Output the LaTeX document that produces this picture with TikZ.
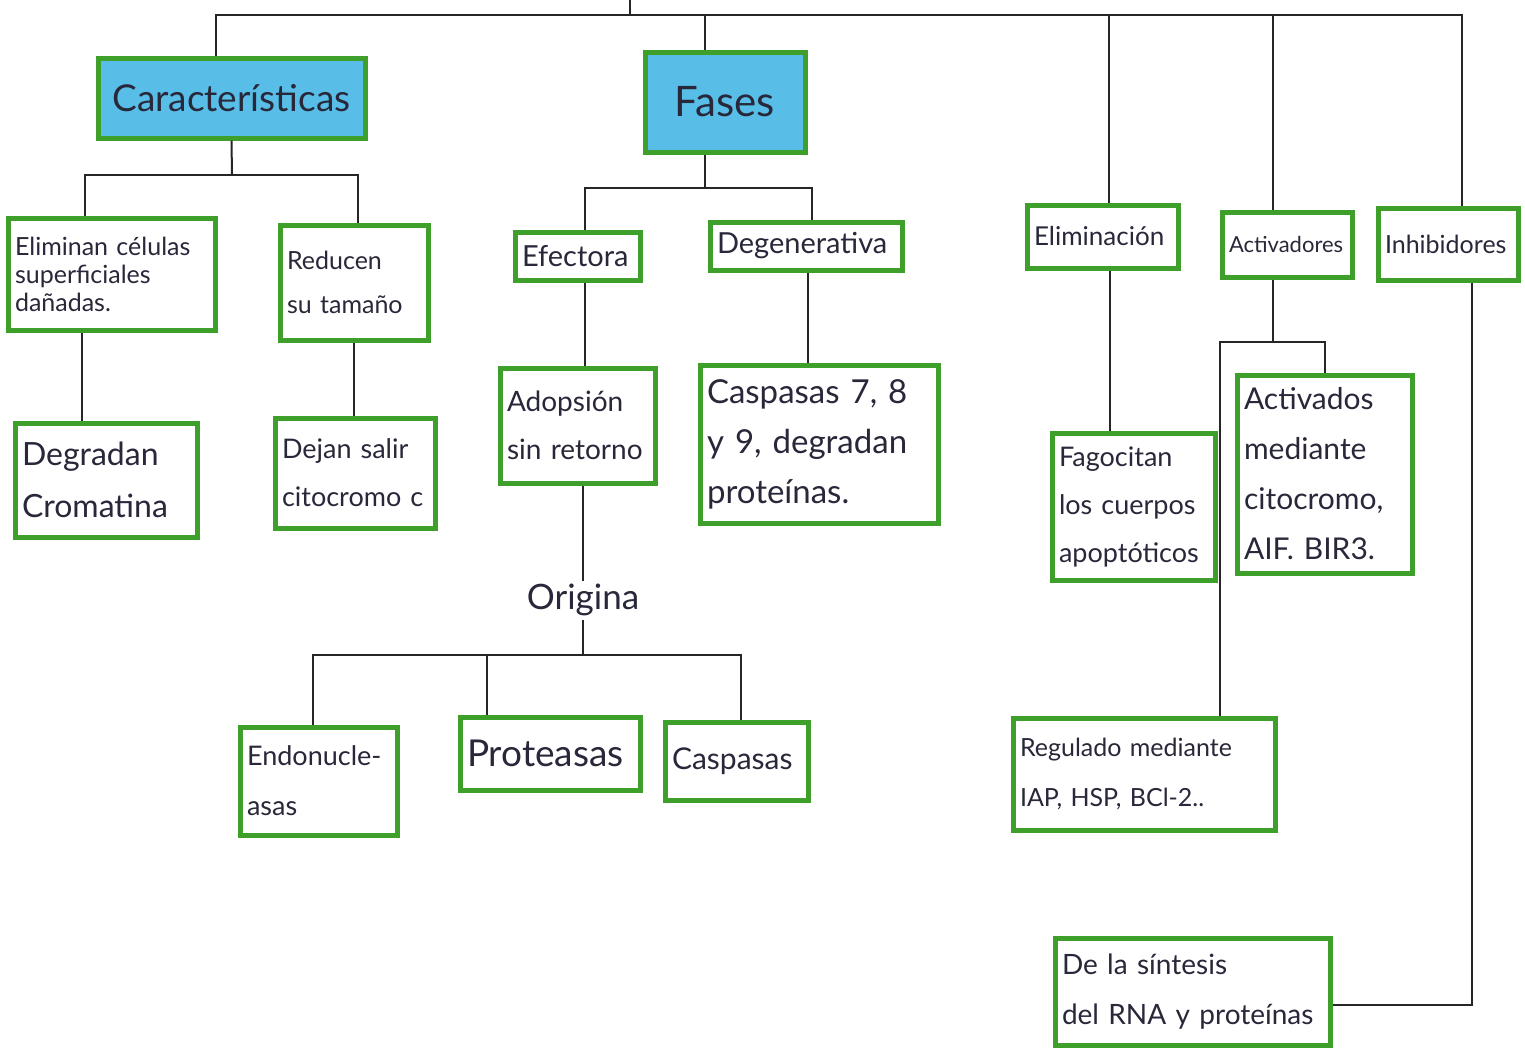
\documentclass[tikz,border=0pt]{standalone}
\usepackage{fontspec}
\setmainfont{Lato}
\usepackage{xcolor}
\definecolor{verde}{RGB}{62,160,42}
\definecolor{celeste}{RGB}{88,190,232}
\definecolor{tinta}{RGB}{40,40,58}
\newcommand{\letra}[2]{\fontsize{#1}{#2}\selectfont}

\tikzset{
  caja/.style={draw=verde, line width=5pt, fill=white, text=tinta, align=left, inner xsep=7pt, inner ysep=4pt},
  titulo/.style={caja, fill=celeste, align=center},
  linea/.style={line width=2pt, black!85},
}

\begin{document}
\begin{tikzpicture}[x=1pt,y=-1pt]
	\useasboundingbox[fill=white] (0,0) rectangle (1525,1047);
	% titulos
	\node[titulo, text width=253pt, minimum height=80pt, font=\letra{37}{42}] (caract) at (231.5,98) {Características};
	\node[titulo, text width=146pt, minimum height=100pt, font=\letra{42}{46}] (fases) at (725,102) {Fases};
	% caracteristicas
	\node[caja, text width=193pt, minimum height=112pt, font=\letra{25}{28}] (elimin) at (111.5,274) {Eliminan células\\superficiales\\dañadas.};
	\node[caja, text width=134pt, minimum height=115pt, font=\letra{25}{44}] (reducen) at (354,282.5) {Reducen\\su tamaño};
	\node[caja, text width=168pt, minimum height=114pt, font=\letra{32}{52}] (degradan) at (106,480) {Degradan\\Cromatina};
	\node[caja, text width=146pt, minimum height=110pt, font=\letra{27}{48}] (dejan) at (355,473) {Dejan salir\\citocromo c};
	% fases
	\node[caja, text width=111pt, minimum height=48pt, font=\letra{29}{32}] (efectora) at (577.5,256) {Efectora};
	\node[caja, text width=178pt, minimum height=48pt, font=\letra{29}{32}] (degen) at (806,246) {Degenerativa};
	\node[caja, text width=141pt, minimum height=115pt, font=\letra{28}{48}] (adopsion) at (577.5,425.5) {Adopsión\\sin retorno};
	\node[caja, text width=224pt, minimum height=158pt, font=\letra{33}{50}] (casp789) at (819,444) {Caspasas 7, 8\\y 9, degradan\\proteínas.};
	\node[text=tinta, font=\letra{35}{38}] (origina) at (583,600) {Origina};
	\node[caja, text width=143pt, minimum height=108pt, font=\letra{27}{50}] (endo) at (318.5,781) {Endonucle-\\asas};
	\node[caja, text width=166pt, minimum height=73pt, font=\letra{37}{40}] (proteasas) at (550,753.5) {Proteasas};
	\node[caja, text width=129pt, minimum height=78pt, font=\letra{30}{34}] (caspasas) at (736.5,761) {Caspasas};
	% lado derecho
	\node[caja, text width=137pt, minimum height=63pt, font=\letra{26}{30}] (eliminacion) at (1102.5,236.5) {Eliminación};
	\node[caja, text width=116pt, minimum height=65pt, font=\letra{22}{26}] (activ) at (1287,244.5) {Activadores};
	\node[caja, text width=126pt, minimum height=72pt, font=\letra{25}{28}] (inhib) at (1448,244) {Inhibidores};
	\node[caja, text width=149pt, minimum height=147pt, font=\letra{27}{48}] (fagocitan) at (1133.5,506.5) {Fagocitan\\los cuerpos\\apoptóticos};
	\node[caja, text width=161pt, minimum height=198pt, font=\letra{30}{50}] (activados) at (1324.5,474) {Activados\\mediante\\citocromo,\\AIF. BIR3.};
	\node[caja, text width=248pt, minimum height=112pt, font=\letra{25}{50}] (regulado) at (1144,774) {Regulado mediante\\IAP, HSP, BCl-2..};
	\node[caja, text width=261pt, minimum height=107pt, font=\letra{28}{50}] (sintesis) at (1192.5,991.5) {De la síntesis\\del RNA y proteínas};
	% conectores
	\coordinate (raiz) at (630,0);
	\coordinate (bus) at (630,15);
	\coordinate (c1) at (232,175);
	\coordinate (f1) at (705,188);
	\coordinate (o1) at (583,655);
	\coordinate (a1) at (1273,342);
	\draw[linea] (raiz) -- (bus);
	\draw[linea] ([xshift=-16pt]caract.north) |- ([xshift=14pt]inhib.north |- bus) -- ([xshift=14pt]inhib.north);
	\draw[linea] ([xshift=-20pt]fases.north) -- ([xshift=-20pt]fases.north |- bus);
	\draw[linea] ([xshift=6pt]eliminacion.north) -- ([xshift=6pt]eliminacion.north |- bus);
	\draw[linea] ([xshift=-14pt]activ.north) -- ([xshift=-14pt]activ.north |- bus);
	\draw[linea] (caract.south) -- (c1);
	\draw[linea] ([xshift=-27pt]elimin.north) |- (c1) -| ([xshift=4pt]reducen.north);
	\draw[linea] ([xshift=-24pt]degradan.north) -- ([xshift=-24pt]degradan.north |- elimin.south);
	\draw[linea] (reducen.south) -- (reducen.south |- dejan.north);
	\draw[linea] ([xshift=-20pt]fases.south) -- (f1);
	\draw[linea] ([xshift=7pt]efectora.north) |- (f1) -| ([xshift=6pt]degen.north);
	\draw[linea] ([xshift=7pt]efectora.south) -- ([xshift=7pt]efectora.south |- adopsion.north);
	\draw[linea] ([xshift=2pt]degen.south) -- ([xshift=2pt]degen.south |- casp789.north);
	\draw[linea] (adopsion.south -| origina.north) -- (origina.north);
	\draw[linea] (origina.south) -- (o1);
	\draw[linea] ([xshift=-6pt]endo.north) |- (o1) -| ([xshift=4pt]caspasas.north);
	\draw[linea] ([xshift=-63pt]proteasas.north) -- ([xshift=-63pt]proteasas.north |- o1);
	\draw[linea] ([xshift=7pt]eliminacion.south) -- ([xshift=7pt]eliminacion.south |- fagocitan.north);
	\draw[linea] ([xshift=-14pt]activ.south) -- (a1);
	\draw[linea] ([xshift=76pt]regulado.north) |- (a1) -| (activados.north);
	\draw[linea] ([xshift=24pt]inhib.south) |- ([yshift=-13pt]sintesis.east);
\end{tikzpicture}
\end{document}
